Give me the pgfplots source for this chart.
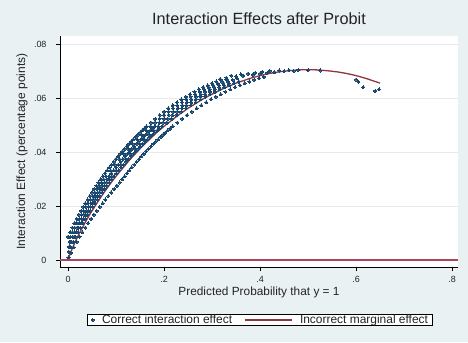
\documentclass[border=0pt]{standalone}
\usepackage{fontspec}
\setmainfont{Liberation Sans}
\usepackage{pgfplots}
\pgfplotsset{compat=1.18}
\definecolor{stnavy}{RGB}{26,71,111}
\definecolor{stmaroon}{RGB}{144,53,59}
\definecolor{stzero}{RGB}{170,70,90}
\definecolor{stbg}{RGB}{234,241,243}
\definecolor{stgrid}{RGB}{228,235,239}
\definecolor{sttext}{RGB}{35,35,38}
\pgfplotsset{
  scatleg/.style={legend image code/.code={\draw[mark repeat=2,mark phase=2,##1] plot coordinates {(0bp,0bp) (4bp,0bp) (8bp,0bp)};}},
  lineleg/.style={legend image code/.code={\draw[##1] (0bp,0bp) -- (47bp,0bp);}},
}
\begin{document}
\begin{tikzpicture}[x=1bp,y=1bp]
\fill[stbg] (0,0) rectangle (468,342);
\useasboundingbox (0,0) rectangle (468,342);
\begin{axis}[
  at={(60bp,75bp)}, anchor=south west,
  scale only axis, width=398bp, height=231bp,
  xmin=-0.01667, xmax=0.8125, ymin=-0.00259, ymax=0.08296,
  axis x line*=bottom, axis y line*=left,
  axis line style={black, line width=0.8pt},
  axis background/.style={fill=white},
  xtick={0,0.2,0.4,0.6,0.8}, xticklabels={0,.2,.4,.6,.8},
  ytick={0,0.02,0.04,0.06,0.08}, yticklabels={0,.02,.04,.06,.08},
  scaled y ticks=false, scaled x ticks=false,
  tick align=outside, major tick length=4bp,
  tick style={black, line width=0.8pt},
  ymajorgrids, grid style={stgrid, line width=0.9pt},
  ticklabel style={font=\fontsize{9}{10}\selectfont, text=sttext},
  xticklabel style={yshift=-2bp},
  yticklabel style={xshift=-6bp},
  title={Interaction Effects after Probit},
  title style={at={(axis description cs:0.5,1.0476)}, anchor=center, font=\fontsize{16.3}{17}\selectfont, text=sttext},
  xlabel={Predicted Probability that y = 1},
  xlabel style={at={(axis description cs:0.5,-0.108)}, anchor=center, font=\fontsize{11.9}{12}\selectfont, text=sttext},
  ylabel={Interaction Effect (percentage points)},
  ylabel style={at={(axis description cs:-0.0955,0.5)}, anchor=center, font=\fontsize{12}{12}\selectfont, text=sttext},
  legend columns=2,
  legend style={at={(axis description cs:0.5025,-0.229)}, anchor=center, draw=black, line width=0.8pt, fill=white,
    font=\fontsize{12}{12}\selectfont, text=sttext, inner xsep=4bp, inner ysep=0bp,
    nodes={inner sep=0.8bp}, column sep=7bp,
    /tikz/every even column/.append style={column sep=11bp}},
]
% Correct interaction effect (scatter)
\addplot[only marks, mark=*, mark size=1.55pt, mark options={stnavy, line width=0pt}, scatleg]
coordinates {
(0.0000,0.0086)(0.0045,0.0103)(0.0091,0.0120)(0.0136,0.0137)(0.0182,0.0152)(0.0227,0.0168)(0.0273,0.0182)(0.0318,0.0197)(0.0364,0.0210)(0.0409,0.0224)(0.0455,0.0237)(0.0500,0.0250)(0.0545,0.0263)(0.0591,0.0275)(0.0636,0.0287)(0.0682,0.0299)(0.0727,0.0310)(0.0773,0.0321)(0.0818,0.0332)(0.0864,0.0343)(0.0909,0.0353)(0.0955,0.0364)(0.1000,0.0374)(0.1045,0.0384)(0.1091,0.0393)(0.1136,0.0403)(0.1182,0.0412)(0.1227,0.0421)(0.1273,0.0430)(0.1318,0.0439)(0.1364,0.0447)(0.1409,0.0456)(0.1455,0.0464)(0.1500,0.0472)(0.1545,0.0480)(0.1591,0.0487)(0.1636,0.0495)(0.1727,0.0509)(0.1818,0.0523)(0.1909,0.0537)(0.2000,0.0549)(0.2091,0.0562)(0.2182,0.0573)(0.2273,0.0584)(0.2364,0.0595)(0.2455,0.0605)(0.2545,0.0614)(0.2636,0.0623)(0.2727,0.0632)(0.2818,0.0640)(0.2909,0.0647)(0.3000,0.0655)(0.3091,0.0661)(0.3182,0.0667)
(0.0047,0.0086)(0.0093,0.0103)(0.0140,0.0120)(0.0186,0.0137)(0.0233,0.0152)(0.0279,0.0168)(0.0326,0.0182)(0.0372,0.0197)(0.0419,0.0210)(0.0465,0.0224)(0.0512,0.0237)(0.0558,0.0250)(0.0605,0.0263)(0.0651,0.0275)(0.0698,0.0287)(0.0744,0.0299)(0.0791,0.0310)(0.0884,0.0332)(0.0977,0.0353)(0.1070,0.0374)(0.1163,0.0393)(0.1256,0.0412)(0.1349,0.0430)(0.1442,0.0447)(0.1535,0.0464)(0.1628,0.0480)(0.1721,0.0495)(0.1814,0.0509)(0.1907,0.0523)(0.2000,0.0537)(0.2093,0.0549)(0.2186,0.0562)(0.2279,0.0573)(0.2372,0.0584)(0.2465,0.0595)(0.2558,0.0605)(0.2651,0.0614)(0.2744,0.0623)(0.2837,0.0632)(0.2930,0.0640)(0.3023,0.0647)(0.3116,0.0655)(0.3209,0.0661)(0.3302,0.0667)
(0.0048,0.0067)(0.0095,0.0086)(0.0143,0.0103)(0.0190,0.0120)(0.0238,0.0137)(0.0286,0.0152)(0.0333,0.0168)(0.0381,0.0182)(0.0429,0.0197)(0.0476,0.0210)(0.0524,0.0224)(0.0571,0.0237)(0.0619,0.0250)(0.0667,0.0263)(0.0714,0.0275)(0.0762,0.0287)(0.0810,0.0299)(0.0857,0.0310)(0.0905,0.0321)(0.0952,0.0332)(0.1000,0.0343)(0.1048,0.0353)(0.1095,0.0364)(0.1143,0.0374)(0.1190,0.0384)(0.1238,0.0393)(0.1286,0.0403)(0.1333,0.0412)(0.1381,0.0421)(0.1429,0.0430)(0.1476,0.0439)(0.1524,0.0447)(0.1571,0.0456)(0.1619,0.0464)(0.1667,0.0472)(0.1714,0.0480)(0.1762,0.0487)(0.1810,0.0495)(0.1905,0.0509)(0.2000,0.0523)(0.2095,0.0537)(0.2190,0.0549)(0.2286,0.0562)(0.2381,0.0573)(0.2476,0.0584)(0.2571,0.0595)(0.2667,0.0605)(0.2762,0.0614)(0.2857,0.0623)(0.2952,0.0632)(0.3048,0.0640)(0.3143,0.0647)(0.3238,0.0655)(0.3333,0.0661)(0.3429,0.0667)(0.3524,0.0673)
(0.0029,0.0047)(0.0078,0.0067)(0.0127,0.0086)(0.0176,0.0103)(0.0224,0.0120)(0.0273,0.0137)(0.0322,0.0152)(0.0371,0.0168)(0.0420,0.0182)(0.0468,0.0197)(0.0517,0.0210)(0.0566,0.0224)(0.0615,0.0237)(0.0663,0.0250)(0.0712,0.0263)(0.0761,0.0275)(0.0810,0.0287)(0.0859,0.0299)(0.0907,0.0310)(0.1005,0.0332)(0.1102,0.0353)(0.1200,0.0374)(0.1298,0.0393)(0.1395,0.0412)(0.1493,0.0430)(0.1590,0.0447)(0.1688,0.0464)(0.1785,0.0480)(0.1883,0.0495)(0.1980,0.0509)(0.2078,0.0523)(0.2176,0.0537)(0.2273,0.0549)(0.2371,0.0562)(0.2468,0.0573)(0.2566,0.0584)(0.2663,0.0595)(0.2761,0.0605)(0.2859,0.0614)(0.2956,0.0623)(0.3054,0.0632)(0.3151,0.0640)(0.3249,0.0647)(0.3346,0.0655)
(0.006,0.0047)(0.011,0.0067)(0.016,0.0086)(0.021,0.0103)(0.026,0.0120)(0.031,0.0137)(0.036,0.0152)(0.041,0.0168)(0.046,0.0182)(0.051,0.0197)(0.056,0.0210)(0.061,0.0224)(0.066,0.0237)(0.071,0.0250)(0.076,0.0263)(0.081,0.0275)(0.086,0.0287)(0.091,0.0299)(0.096,0.0310)(0.101,0.0321)(0.106,0.0332)(0.111,0.0343)(0.116,0.0353)(0.121,0.0364)(0.126,0.0374)(0.131,0.0384)(0.136,0.0393)(0.141,0.0403)(0.146,0.0412)(0.151,0.0421)(0.156,0.0430)(0.161,0.0439)(0.166,0.0447)(0.171,0.0456)(0.176,0.0464)(0.181,0.0472)(0.186,0.0480)(0.191,0.0487)(0.196,0.0495)(0.206,0.0509)(0.216,0.0523)(0.226,0.0537)(0.236,0.0549)(0.246,0.0562)(0.256,0.0573)(0.266,0.0584)(0.276,0.0595)(0.286,0.0605)(0.296,0.0614)(0.306,0.0623)(0.316,0.0632)(0.326,0.0640)(0.336,0.0647)(0.346,0.0655)(0.356,0.0661)
(0.006,0.0026)(0.012,0.0047)(0.018,0.0067)(0.024,0.0086)(0.030,0.0103)(0.036,0.0120)(0.042,0.0137)(0.048,0.0152)(0.054,0.0168)(0.060,0.0182)(0.066,0.0197)(0.072,0.0210)(0.078,0.0224)(0.084,0.0237)(0.090,0.0250)(0.096,0.0263)(0.102,0.0275)(0.108,0.0287)(0.113,0.0299)(0.118,0.0310)(0.123,0.0321)(0.128,0.0332)(0.133,0.0343)(0.138,0.0353)(0.143,0.0364)(0.148,0.0374)(0.153,0.0384)(0.158,0.0393)(0.163,0.0403)(0.168,0.0412)(0.173,0.0421)(0.178,0.0430)(0.183,0.0439)(0.188,0.0447)(0.193,0.0456)(0.198,0.0464)(0.203,0.0472)(0.208,0.0480)(0.213,0.0487)(0.218,0.0495)(0.228,0.0509)(0.238,0.0523)(0.248,0.0537)(0.258,0.0549)(0.268,0.0562)(0.278,0.0573)(0.288,0.0584)(0.298,0.0595)(0.308,0.0605)(0.318,0.0614)(0.328,0.0623)(0.338,0.0632)(0.348,0.0640)(0.358,0.0647)(0.368,0.0655)(0.378,0.0661)(0.388,0.0667)(0.398,0.0673)(0.408,0.0678)
(0.001,0.0010)(0.002,0.0030)(0.003,0.0050)(0.004,0.0068)
(0.317,0.0670)(0.330,0.0675)(0.340,0.0683)(0.350,0.0680)(0.360,0.0688)(0.365,0.0682)(0.375,0.0690)(0.385,0.0686)(0.390,0.0693)(0.400,0.0690)(0.405,0.0697)(0.415,0.0693)(0.420,0.0700)(0.430,0.0696)(0.440,0.0702)(0.450,0.0699)(0.460,0.0703)(0.470,0.0700)(0.480,0.0704)(0.500,0.0703)(0.525,0.0702)(0.600,0.0668)(0.605,0.0660)(0.615,0.0640)(0.640,0.0626)(0.648,0.0632)
};
\addlegendentry{Correct interaction effect}
% Incorrect marginal effect (line)
\addplot[stmaroon, line width=1.3bp, mark=none, lineleg]
coordinates {
(0.001,0.0006)(0.005,0.0026)(0.01,0.0047)(0.015,0.0067)(0.02,0.0086)(0.025,0.0103)(0.03,0.0120)(0.035,0.0137)(0.04,0.0152)(0.045,0.0168)(0.05,0.0182)(0.06,0.0210)(0.07,0.0237)(0.08,0.0263)(0.09,0.0287)(0.10,0.0310)(0.11,0.0332)(0.12,0.0353)(0.13,0.0374)(0.14,0.0393)(0.15,0.0412)(0.16,0.0430)(0.17,0.0447)(0.18,0.0464)(0.19,0.0480)(0.20,0.0495)(0.21,0.0509)(0.22,0.0523)(0.23,0.0537)(0.24,0.0549)(0.25,0.0562)(0.26,0.0573)(0.27,0.0584)(0.28,0.0595)(0.29,0.0605)(0.30,0.0614)(0.31,0.0623)(0.32,0.0632)(0.33,0.0640)(0.34,0.0647)(0.35,0.0655)(0.36,0.0661)(0.37,0.0667)(0.38,0.0673)(0.39,0.0678)(0.40,0.0683)(0.42,0.0691)(0.44,0.0697)(0.46,0.0701)(0.48,0.0704)(0.50,0.0705)(0.52,0.0704)(0.54,0.0701)(0.56,0.0697)(0.58,0.0691)(0.60,0.0683)(0.62,0.0673)(0.64,0.0661)(0.65,0.0655)
};
\addlegendentry{Incorrect marginal effect}
% zero reference line
\addplot[stzero, line width=1.1bp, forget plot] coordinates {(-0.01667,0) (0.8125,0)};
\end{axis}
\end{tikzpicture}
\end{document}
